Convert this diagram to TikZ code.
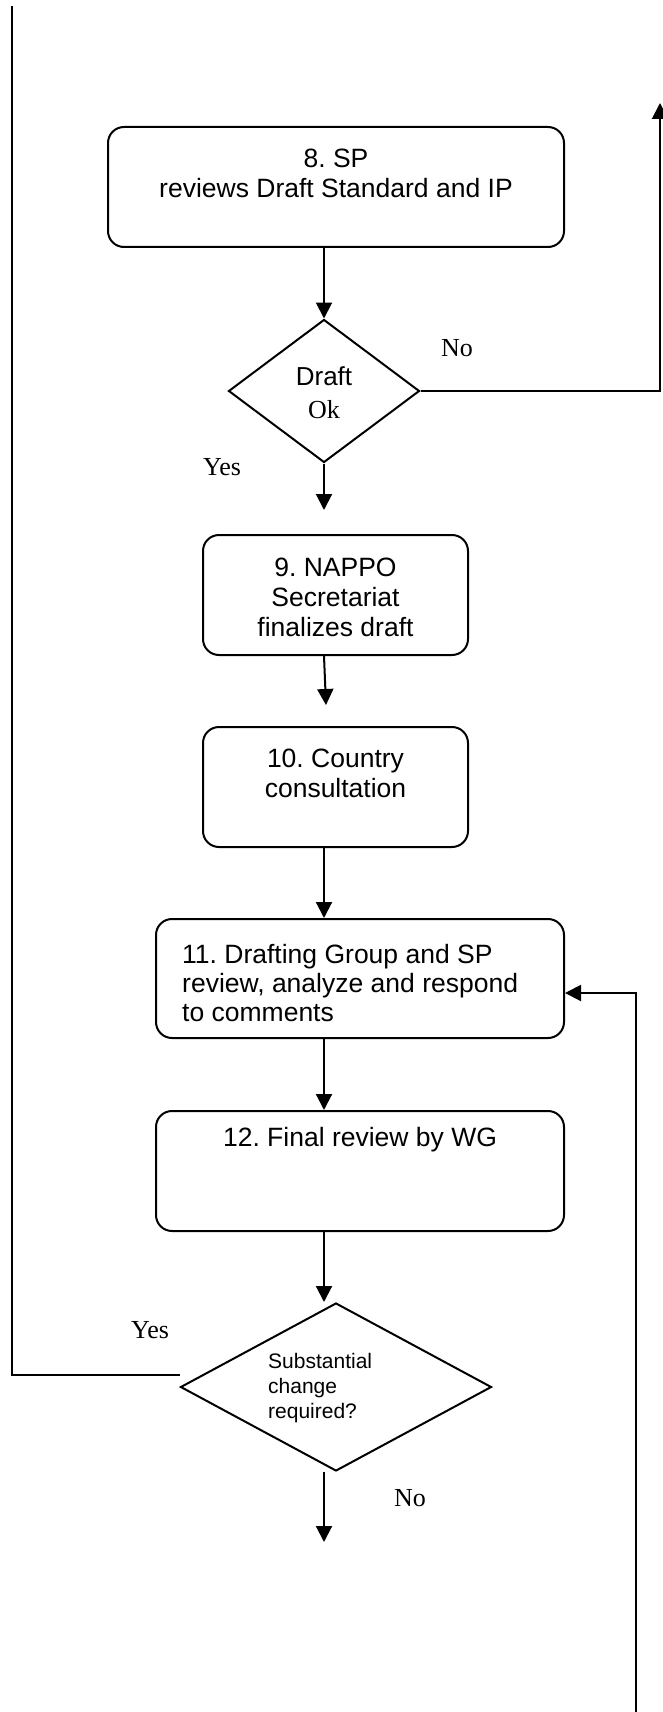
\documentclass[tikz,border=0pt]{standalone}
\usepackage{fontspec}
\setmainfont{Liberation Sans}
\newfontfamily\serifrm{Liberation Serif}
\usetikzlibrary{arrows.meta,shapes.geometric,calc}
\frenchspacing
\tikzset{
  box/.style={draw, line width=2pt, rounded corners=16pt, inner sep=0pt},
  dia/.style={draw, diamond, line width=2pt, inner sep=0pt},
  txt/.style={inner sep=0pt, font=\fontsize{26.5}{30}\selectfont, align=center},
  lab/.style={inner sep=0pt, font=\serifrm\fontsize{26}{30}\selectfont},
  conn/.style={line width=2pt},
  arr/.style={line width=2pt, -{Triangle[width=16pt,length=16pt]}}
}
\begin{document}
\begin{tikzpicture}[x=1pt,y=-1pt]
\fill[white] (0,0) rectangle (663,1712);
\useasboundingbox (0,0) rectangle (663,1712);

% boxes
\node[box, minimum width=456pt, minimum height=120pt] (b8) at (336,187) {};
\node[txt] (t8) at (336,173) {8. SP\\reviews Draft Standard and IP};

\node[dia, minimum width=191pt, minimum height=143pt] (d1) at (324,391) {};
\node[txt, font=\fontsize{26}{33}\selectfont] (t1) at (324,393) {Draft\\{\serifrm Ok}};

\node[box, minimum width=265pt, minimum height=120pt] (b9) at (335.5,595) {};
\node[txt] (t9) at (335.5,597) {9. NAPPO\\Secretariat\\finalizes draft};

\node[box, minimum width=265pt, minimum height=120pt] (b10) at (335.5,787) {};
\node[txt] (t10) at (335.5,773) {10. Country\\consultation};

\node[box, minimum width=408pt, minimum height=119pt] (b11) at (360,978.5) {};
\node[txt, align=left, anchor=west, font=\fontsize{26.5}{29}\selectfont] (t11) at (182,983) {11. Drafting Group and SP\\review, analyze and respond\\to comments};

\node[box, minimum width=408pt, minimum height=120pt] (b12) at (360,1171) {};
\node[txt] (t12) at (360,1140) {12. Final review by WG};

\node[dia, minimum width=311pt, minimum height=168pt] (d2) at (336,1387) {};
\node[txt, align=left, anchor=west, font=\fontsize{21}{25}\selectfont] (t2) at (268,1388) {Substantial\\change\\required?};

% labels
\node[lab] (yes1) at (222,467) {Yes};
\node[lab] (no1) at (457,348) {No};
\node[lab] (yes2) at (150,1330) {Yes};
\node[lab] (no2) at (410,1498) {No};

% free ends
\coordinate (c1) at (324,510);
\coordinate (c2) at (326,705);
\coordinate (c3) at (324,1542);
\coordinate (c4) at (660,103);
\coordinate (c5) at (12,6);
\coordinate (c6) at (636,1712);

% connectors
\draw[arr] (b8.south -| d1.north) -- (d1.north);
\draw[arr] (d1.south) -- (c1);
\draw[arr] (b9.south -| d1.south) -- (c2);
\draw[arr] (b10.south -| d1.south) -- (b11.north -| d1.south);
\draw[arr] (b11.south -| d1.south) -- (b12.north -| d1.south);
\draw[arr] (b12.south -| d1.south) -- (d2.north -| d1.south);
\draw[arr] (d2.south -| d1.south) -- (c3);
\draw[arr] (d1.east) -| (c4);
\draw[conn] ($(d2.west)+(0,-12)$) -| (c5);
\draw[arr] (c6) |- ($(b11.east)+(0,14.5)$);
\end{tikzpicture}
\end{document}
